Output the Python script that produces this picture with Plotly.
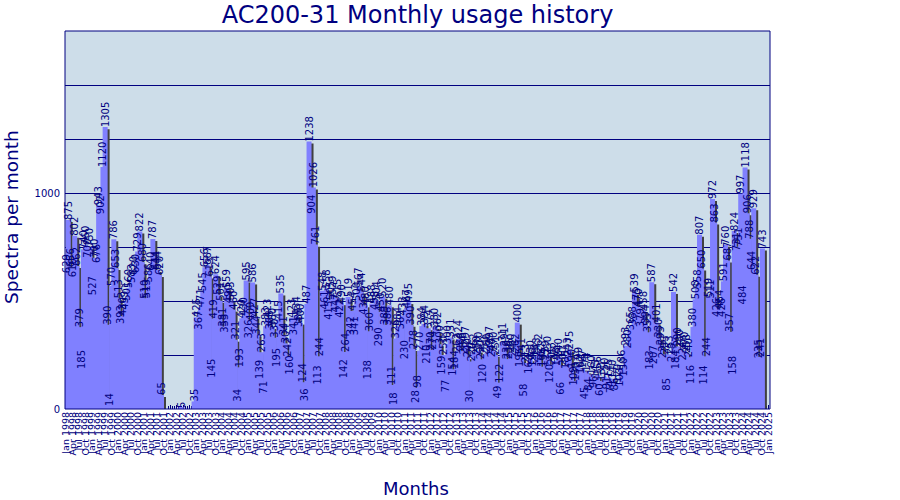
import plotly.graph_objects as go

# Monthly usage values, Jan 1998 .. Oct 2024 (None = no data that month)
y1998 = [629, 875, 656, 610, 802, 662, 379, 185, 740, 760, 700, 750]
y1999 = [527, 700, 676, 943, 902, 1120, 1305, 390, 14, 570, 786, 653]
y2000 = [513, 393, 430, 459, 501, 560, 583, 620, 630, 729, 822, 680]
y2001 = [510, 513, 586, 640, 787, 644, 644, 620, 65, None, None, None]
y2002 = [None, None, None, None, None, 5, None, None, None, None, None, 35]
y2003 = [425, 367, 471, 545, 656, 667, 613, 145, 419, 624, 529, 501]
y2004 = [381, 353, 559, 490, 503, 460, 321, 34, 193, 420, 430, 595]
y2005 = [326, 409, 586, 427, 344, 139, 263, 71, 383, 423, 368, 380]
y2006 = [330, 195, 415, 535, 341, 304, 242, 160, 423, 341, 434, 380]
y2007 = [400, 124, 36, 487, 1238, 904, 1026, 761, 113, 244, 548, 461]
y2008 = [558, 413, 505, 529, 447, 515, 422, 490, 142, 264, 519, 342]
y2009 = [454, 341, 500, 567, 544, 436, 480, 138, 360, 488, 458, 504]
y2010 = [290, 450, 520, 389, 386, 480, 111, 18, 326, 384, 369, 433]
y2011 = [230, 467, 495, 390, 278, 28, 98, 270, 384, 394, 210, 374]
y2012 = [270, 274, 380, 362, 300, 159, 250, 77, 300, 331, 154, 184]
y2013 = [262, 324, 268, 254, 297, 240, 30, 220, 262, 250, 270, 230]
y2014 = [120, 250, 260, 297, 240, 270, 251, 49, 122, 311, 291, 230]
y2015 = [230, 260, 242, 262, 400, 195, 241, 58, 213, 163, 230, 196]
y2016 = [213, 243, 262, 196, 194, 229, 250, 120, 205, 222, 198, 240]
y2017 = [66, 200, 185, 243, 275, 190, 109, 130, 199, 162, 187, 45]
y2018 = [174, 84, 160, 96, 143, 156, 60, 130, 150, 91, 145, 74]
y2019 = [140, 86, 120, 103, 186, 150, 293, 280, 365, 388, 539, 475]
y2020 = [470, 379, 458, 394, 355, 183, 587, 207, 401, 330, 295, 235]
y2021 = [253, 85, 253, 218, 542, 184, 290, 280, 224, 270, 258, 240]
y2022 = [116, 380, 508, 558, 807, 650, 114, 244, 519, 511, 972, 863]
y2023 = [426, 464, 426, 591, 760, 687, 357, 158, 824, 731, 751, 997]
y2024 = [484, 1118, 906, 788, 644, 929, 622, 235, 241, 743]

month_names = ["Jan", "Feb", "Mar", "Apr", "May", "Jun",
               "Jul", "Aug", "Sep", "Oct", "Nov", "Dec"]
first_year = 1998
axis_slots = 325  # Jan 1998 .. Jan 2025 on the axis

values = (y1998 + y1999 + y2000 + y2001 + y2002 + y2003 + y2004 + y2005 +
          y2006 + y2007 + y2008 + y2009 + y2010 + y2011 + y2012 + y2013 +
          y2014 + y2015 + y2016 + y2017 + y2018 + y2019 + y2020 + y2021 +
          y2022 + y2023 + y2024)
x = list(range(len(values)))

tick_idx = list(range(0, axis_slots, 3))
tick_text = [f"{month_names[i % 12]} {first_year + i // 12}" for i in tick_idx]

NAVY = "#000080"
BAR_W = 2.3
SHADOW_DX = 0.92
SHADOW_DY = 9.3

shadow = go.Bar(
    x=x, y=[None if v is None else max(v - SHADOW_DY, 0) for v in values],
    width=BAR_W, offset=-BAR_W / 2 + SHADOW_DX,
    marker=dict(color="#404040", line=dict(width=0)), hoverinfo="skip")
bars = go.Bar(
    x=x, y=values, width=BAR_W,
    marker=dict(color="#8080ff", line=dict(width=0)))
labels = go.Bar(
    x=x, y=values, width=BAR_W,
    marker=dict(color="rgba(0,0,0,0)", line=dict(width=0)),
    text=["" if v is None else str(v) for v in values],
    textposition="outside", textangle=-90,
    constraintext="none", cliponaxis=False,
    textfont=dict(family="DejaVu Sans", size=10, color=NAVY), hoverinfo="skip")

fig = go.Figure([shadow, bars, labels])

ytick_vals = list(range(0, 1751, 250))
ytick_text = [str(v) if v % 1000 == 0 else "" for v in ytick_vals]

fig.update_layout(
    width=900, height=500,
    margin=dict(l=65, r=130, t=31, b=91),
    paper_bgcolor="white", plot_bgcolor="#cddde9",
    barmode="overlay", showlegend=False,
    title=dict(text="AC200-31 Monthly usage history", x=0.5, xref="paper",
               xanchor="center", y=1 - 15 / 500, yref="container", yanchor="middle",
               font=dict(family="DejaVu Sans", size=24, color=NAVY)),
    xaxis=dict(range=[-0.5, axis_slots - 0.5], tickmode="array",
               tickvals=tick_idx, ticktext=tick_text, tickangle=-90,
               tickfont=dict(family="DejaVu Sans", size=9.5, color=NAVY),
               ticks="inside", ticklen=4, tickcolor=NAVY,
               minor=dict(tickmode="linear", tick0=0, dtick=1, ticks="inside",
                          ticklen=3, tickcolor=NAVY),
               showgrid=False, zeroline=False, showline=False,
               layer="below traces"),
    yaxis=dict(range=[0, 1750], tickmode="array", tickvals=ytick_vals,
               ticktext=ytick_text, showgrid=True, gridcolor=NAVY, gridwidth=1,
               zeroline=False, showline=False, ticks="",
               tickfont=dict(family="DejaVu Sans", size=10, color=NAVY),
               ticklabelstandoff=4, layer="below traces"),
    shapes=[dict(type="rect", xref="paper", yref="paper", x0=0, x1=1, y0=0, y1=1,
                 line=dict(color=NAVY, width=1), layer="above")],
    annotations=[
        dict(text="Spectra per month", xref="paper", yref="paper",
             x=(12 - 65) / 705, y=0.508, textangle=-90, showarrow=False,
             xanchor="center", yanchor="middle",
             font=dict(family="DejaVu Sans", size=18.5, color=NAVY)),
        dict(text="Months", xref="paper", yref="paper",
             x=0.498, y=(409 - 488) / 378, showarrow=False,
             xanchor="center", yanchor="middle",
             font=dict(family="DejaVu Sans", size=18, color=NAVY)),
    ],
)

fig.write_html("out.html")
